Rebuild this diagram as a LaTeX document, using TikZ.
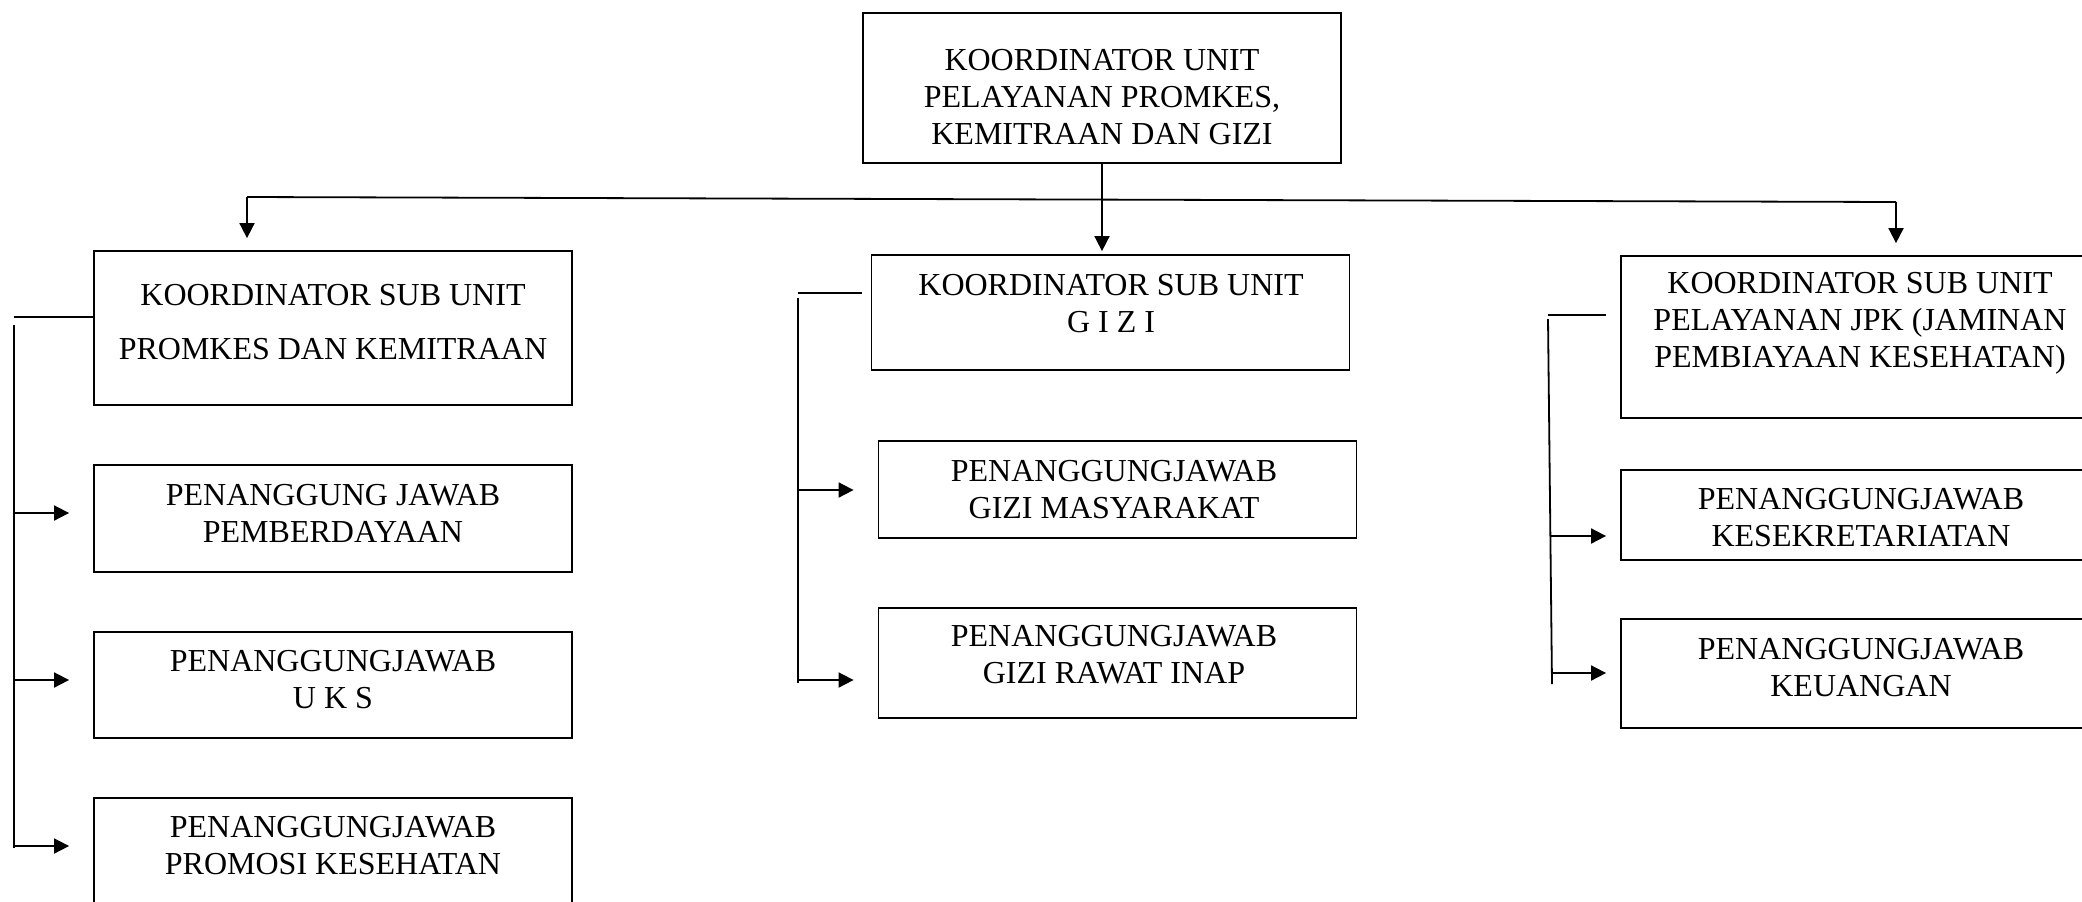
\documentclass[tikz,border=0pt]{standalone}
\usepackage{fontspec}
\setmainfont{Liberation Serif}
\usetikzlibrary{arrows.meta}

\begin{document}
\begin{tikzpicture}[x=0.5pt, y=-0.5pt,
  unitbox/.style={draw, line width=0.9pt, inner sep=0pt, minimum width=239pt},
  boxtext/.style={align=center, inner sep=0pt, font=\fontsize{16}{18.5}\selectfont},
  link/.style={line width=0.9pt},
  linkarrow/.style={line width=0.9pt, -{Triangle[length=7.5pt, width=7.5pt]}}]
\useasboundingbox (0,0) rectangle (2082,901);
% Head of the unit
\node[unitbox, minimum height=75pt] (koor) at (1102,88) {};
\node[boxtext] (koortxt) at (1102,97) {KOORDINATOR UNIT\\PELAYANAN PROMKES,\\KEMITRAAN DAN GIZI};
% Left column: promkes
\node[unitbox, minimum height=77pt] (promkes) at (333,328) {};
\node[boxtext] (promkestxt) at (333,322) {KOORDINATOR SUB UNIT\\[8.5pt]PROMKES DAN KEMITRAAN};
\node[unitbox, minimum height=53.5pt] (pemb) at (333,518.5) {};
\node[boxtext] (pembtxt) at (333,513) {PENANGGUNG JAWAB\\PEMBERDAYAAN};
\node[unitbox, minimum height=53pt] (uks) at (333,685) {};
\node[boxtext] (ukstxt) at (333,680) {PENANGGUNGJAWAB\\U K S};
\node[unitbox, minimum height=66pt] (promosi) at (333,864) {};
\node[boxtext] (promositxt) at (333,846) {PENANGGUNGJAWAB\\PROMOSI KESEHATAN};
% Middle column: gizi
\node[unitbox, minimum height=57.5pt] (gizi) at (1110.5,312.5) {};
\node[boxtext] (gizitxt) at (1111,303.5) {KOORDINATOR SUB UNIT\\G I Z I};
\node[unitbox, minimum height=48.5pt] (gizimas) at (1117.5,489.5) {};
\node[boxtext] (gizimastxt) at (1114,490) {PENANGGUNGJAWAB\\GIZI MASYARAKAT};
\node[unitbox, minimum height=55pt] (rawat) at (1117.5,663) {};
\node[boxtext] (rawattxt) at (1114,655) {PENANGGUNGJAWAB\\GIZI RAWAT INAP};
% Right column: jpk
\node[unitbox, minimum height=81pt] (jpk) at (1860,337) {};
\node[boxtext] (jpktxt) at (1860,323) {KOORDINATOR SUB UNIT\\PELAYANAN JPK (JAMINAN\\PEMBIAYAAN KESEHATAN)};
\node[unitbox, minimum height=45pt] (sekre) at (1860,515) {};
\node[boxtext] (sekretxt) at (1861,517.5) {PENANGGUNGJAWAB\\KESEKRETARIATAN};
\node[unitbox, minimum height=54.5pt] (keu) at (1860,673.5) {};
\node[boxtext] (keutxt) at (1861,667.5) {PENANGGUNGJAWAB\\KEUANGAN};
% Branches from the head
\coordinate (bl) at (247,197);
\coordinate (br) at (1896,202);
\draw[linkarrow] (koor.south) -- ([yshift=1.5pt]koor.south |- gizi.north);
\draw[link] (bl) -- (br);
\draw[linkarrow] (bl) -- ([yshift=6pt]bl |- promkes.north);
\draw[linkarrow] (br) -- ([yshift=6pt]br |- jpk.north);
% Left trunk
\coordinate (lt) at (14,317);
\coordinate (lb) at (14,848);
\draw[link] (lt) -- (promkes.west |- lt);
\draw[link] ([yshift=-4pt]lt) -- (lb);
\foreach \n in {pemb, uks, promosi}
  \draw[linkarrow] (lt |- \n txt) -- ([xshift=-12pt]\n.west |- \n txt);
% Middle trunk
\coordinate (mt) at (798,293);
\coordinate (mb) at (798,683);
\draw[link] (mt) -- ([xshift=-4.5pt]gizi.west |- mt);
\draw[link] ([yshift=-2.5pt]mt) -- (mb);
\draw[linkarrow] (mt |- gizimastxt) -- ([xshift=-12pt]gizimas.west |- gizimastxt);
\draw[linkarrow] (mt |- mb) ++(0,-3) -- ([xshift=-12pt]rawat.west |- 0,680);
% Right trunk
\coordinate (rt) at (1548,315);
\coordinate (rb) at (1552,684);
\draw[link] (rt) -- ([xshift=-7pt]jpk.west |- rt);
\draw[link] ([yshift=-2pt]rt) -- (rb);
\draw[linkarrow] (1551,536) -- ([xshift=-7pt]sekre.west |- 0,536);
\draw[linkarrow] (1552,673) -- ([xshift=-7pt]keu.west |- 0,673);
\end{tikzpicture}
\end{document}
